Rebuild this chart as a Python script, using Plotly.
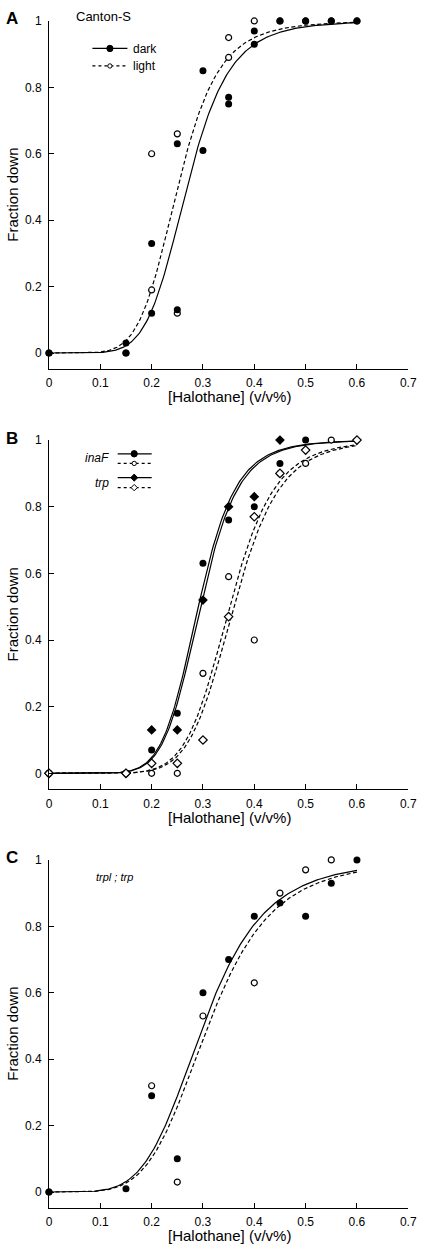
import numpy as np
import plotly.graph_objects as go

W, H = 427, 1252
FONT = "Liberation Sans, Arial, Helvetica, sans-serif"

# ---------------- data ----------------
x_tick_vals = [0, 0.1, 0.2, 0.3, 0.4, 0.5, 0.6, 0.7]
x_tick_text = ["0", "0.1", "0.2", "0.3", "0.4", "0.5", "0.6", "0.7"]
y_tick_vals = [0, 0.2, 0.4, 0.6, 0.8, 1.0]
y_tick_text = ["0", "0.2", "0.4", "0.6", "0.8", "1"]

# Panel A: Canton-S
a_dark_x = [0, 0.15, 0.15, 0.2, 0.2, 0.25, 0.25, 0.3, 0.3, 0.35, 0.35, 0.4, 0.4, 0.45, 0.5, 0.55, 0.6]
a_dark_y = [0, 0.03, 0.0, 0.33, 0.12, 0.63, 0.13, 0.85, 0.61, 0.77, 0.75, 0.97, 0.93, 1.0, 1.0, 1.0, 1.0]
a_light_x = [0, 0.15, 0.2, 0.2, 0.25, 0.25, 0.35, 0.35, 0.4, 0.45, 0.5, 0.55, 0.6]
a_light_y = [0, 0.0, 0.60, 0.19, 0.66, 0.12, 0.95, 0.89, 1.0, 1.0, 1.0, 1.0, 1.0]
a_dark_fit = dict(ec50=0.269, n=6.5)
a_light_fit = dict(ec50=0.251, n=6.3)

# Panel B: inaF and trp
b_inaf_dark_x = [0, 0.15, 0.2, 0.25, 0.3, 0.35, 0.4, 0.45, 0.5]
b_inaf_dark_y = [0, 0.0, 0.07, 0.18, 0.63, 0.76, 0.80, 0.93, 1.0]
b_inaf_light_x = [0, 0.15, 0.2, 0.25, 0.3, 0.35, 0.4, 0.45, 0.5, 0.55]
b_inaf_light_y = [0, 0.0, 0.0, 0.0, 0.30, 0.59, 0.40, 0.90, 0.93, 1.0]
b_trp_dark_x = [0, 0.15, 0.2, 0.25, 0.3, 0.35, 0.4, 0.45]
b_trp_dark_y = [0, 0.0, 0.13, 0.13, 0.52, 0.80, 0.83, 1.0]
b_trp_light_x = [0, 0.15, 0.2, 0.25, 0.3, 0.35, 0.4, 0.45, 0.5, 0.6]
b_trp_light_y = [0, 0.0, 0.03, 0.03, 0.10, 0.47, 0.77, 0.90, 0.97, 1.0]
b_inaf_dark_fit = dict(ec50=0.291, n=8.0)
b_trp_dark_fit = dict(ec50=0.295, n=8.0)
b_inaf_light_fit = dict(ec50=0.352, n=8.0)
b_trp_light_fit = dict(ec50=0.360, n=8.0)

# Panel C: trpl ; trp
c_dark_x = [0, 0.15, 0.2, 0.25, 0.3, 0.35, 0.4, 0.45, 0.5, 0.55, 0.6]
c_dark_y = [0, 0.01, 0.29, 0.10, 0.60, 0.70, 0.83, 0.87, 0.83, 0.93, 1.0]
c_light_x = [0, 0.2, 0.25, 0.3, 0.4, 0.45, 0.5, 0.55]
c_light_y = [0, 0.32, 0.03, 0.53, 0.63, 0.90, 0.97, 1.0]
c_dark_fit = dict(ec50=0.300, n=4.95)
c_light_fit = dict(ec50=0.310, n=4.95)

FIT_X_MAX = 0.6

# ---------------- helpers ----------------
def hill(fit):
    x = np.linspace(0, FIT_X_MAX, 241)
    xn = np.power(x, fit["n"])
    return x, xn / (xn + fit["ec50"] ** fit["n"])


def px(x):
    return x / W


def py(y):
    return 1 - y / H


fig = go.Figure()

# panel geometry in pixels: (top of plot, bottom axis line)
panels = {
    "": (14.0, 364.0),
    "2": (435.5, 786.7),
    "3": (857.7, 1207.7),
}
X_LEFT, X_RIGHT = 47.3, 417.0
YRANGE = [-0.048, 1.0]

axis_common = dict(
    showline=True, linecolor="black", linewidth=1,
    ticks="inside", ticklen=5, tickwidth=1, tickcolor="black",
    showgrid=False, zeroline=False,
    tickfont=dict(family=FONT, size=12, color="black"),
)

for suf, (top, bot) in panels.items():
    fig.layout["xaxis" + suf] = dict(
        axis_common, domain=[px(X_LEFT), px(X_RIGHT)], range=[0, 0.7],
        tickvals=x_tick_vals, ticktext=x_tick_text,
        anchor="y" + suf, ticklabelstandoff=3,
    )
    fig.layout["yaxis" + suf] = dict(
        axis_common, domain=[py(bot), py(top)], range=YRANGE,
        tickvals=y_tick_vals, ticktext=y_tick_text,
        anchor="x" + suf, ticklabelstandoff=4,
    )


def curve(fit, suf, dash):
    x, y = hill(fit)
    fig.add_trace(go.Scatter(
        x=x, y=y, mode="lines", xaxis="x" + suf, yaxis="y" + suf,
        line=dict(color="black", width=1.2, dash=dash), showlegend=False,
        hoverinfo="skip"))


def points(xs, ys, suf, symbol, filled):
    size = 7 if symbol == "circle" else 7.5
    if not filled:
        size -= 1
    fig.add_trace(go.Scatter(
        x=xs, y=ys, mode="markers", xaxis="x" + suf, yaxis="y" + suf,
        cliponaxis=False, showlegend=False,
        marker=dict(symbol=symbol, size=size,
                    color="black" if filled else "white",
                    line=dict(color="black", width=1.2 if not filled else 0))))


DASH = "4px,2.5px"

# Panel A
curve(a_dark_fit, "", "solid")
curve(a_light_fit, "", DASH)
points(a_light_x, a_light_y, "", "circle", False)
points(a_dark_x, a_dark_y, "", "circle", True)

# Panel B
curve(b_inaf_dark_fit, "2", "solid")
curve(b_trp_dark_fit, "2", "solid")
curve(b_inaf_light_fit, "2", DASH)
curve(b_trp_light_fit, "2", DASH)
points(b_inaf_dark_x, b_inaf_dark_y, "2", "circle", True)
points(b_trp_dark_x, b_trp_dark_y, "2", "diamond", True)
points(b_inaf_light_x, b_inaf_light_y, "2", "circle", False)
points(b_trp_light_x, b_trp_light_y, "2", "diamond", False)

# Panel C
curve(c_dark_fit, "3", "solid")
curve(c_light_fit, "3", DASH)
points(c_light_x, c_light_y, "3", "circle", False)
points(c_dark_x, c_dark_y, "3", "circle", True)

# ---------------- legends (drawn as shapes) ----------------
shapes = []


def leg_line(x0, x1, y, dash):
    shapes.append(dict(type="line", xref="paper", yref="paper",
                       x0=px(x0), x1=px(x1), y0=py(y), y1=py(y),
                       line=dict(color="black", width=1.2, dash=dash)))


def leg_circle(cx, cy, r, filled):
    shapes.append(dict(type="circle", xref="paper", yref="paper",
                       x0=px(cx - r), x1=px(cx + r), y0=py(cy + r), y1=py(cy - r),
                       fillcolor="black" if filled else "white",
                       line=dict(color="black", width=1)))


def leg_diamond(cx, cy, r, filled):
    path = "M {a},{b} L {c},{d} L {e},{f} L {g},{h} Z".format(
        a=px(cx - r), b=py(cy), c=px(cx), d=py(cy - r),
        e=px(cx + r), f=py(cy), g=px(cx), h=py(cy + r))
    shapes.append(dict(type="path", xref="paper", yref="paper", path=path,
                       fillcolor="black" if filled else "white",
                       line=dict(color="black", width=1)))


# Panel A legend
leg_line(92, 128, 41.7, "solid")
leg_circle(110, 41.7, 3.2, True)
leg_line(92, 128, 59.3, "3px,3px")
leg_circle(110, 59.3, 2.2, False)

# Panel B legend
leg_line(118, 153, 449.3, "solid")
leg_circle(135, 449.3, 3.2, True)
leg_line(118, 153, 459.0, "3px,3px")
leg_circle(135, 459.0, 2.2, False)
leg_line(118, 153, 473.3, "solid")
leg_diamond(135, 473.3, 3.6, True)
leg_line(118, 153, 483.3, "3px,3px")
leg_diamond(135, 483.3, 3.2, False)

# ---------------- text ----------------
annotations = []


def text(t, x, y, size, xanchor="center", angle=0, bold=False, italic=False):
    if bold:
        t = "<b>" + t + "</b>"
    if italic:
        t = "<i>" + t + "</i>"
    annotations.append(dict(text=t, x=px(x), y=py(y), xref="paper", yref="paper",
                            xanchor=xanchor, yanchor="middle", showarrow=False,
                            textangle=angle,
                            font=dict(family=FONT, size=size, color="black")))


for (top, bot), letter in zip(panels.values(), ["A", "B", "C"]):
    text("[Halothane] (v/v%)", (X_LEFT + X_RIGHT) / 2 + 0.5, bot + 28, 15)
    text("Fraction down", 10, (top + bot) / 2, 15, angle=-90)
    text(letter, 9.5, top - 2, 17, bold=True)

text("Canton-S", 73, 10, 13, xanchor="left")
text("dark", 132, 42, 12, xanchor="left")
text("light", 132, 59.5, 12, xanchor="left")
text("inaF", 111, 454, 12, xanchor="right", italic=True)
text("trp", 111, 479, 12, xanchor="right", italic=True)
text("trpl ; trp", 94, 875, 11, xanchor="left", italic=True)

fig.update_layout(
    width=W, height=H, margin=dict(l=0, r=0, t=0, b=0),
    paper_bgcolor="white", plot_bgcolor="white",
    showlegend=False, shapes=shapes, annotations=annotations,
    font=dict(family=FONT, color="black"),
)

fig.write_html(
    "out.html",
    config={"displayModeBar": False},
    post_script="document.body.style.margin='0px';document.body.style.overflow='hidden';",
)
